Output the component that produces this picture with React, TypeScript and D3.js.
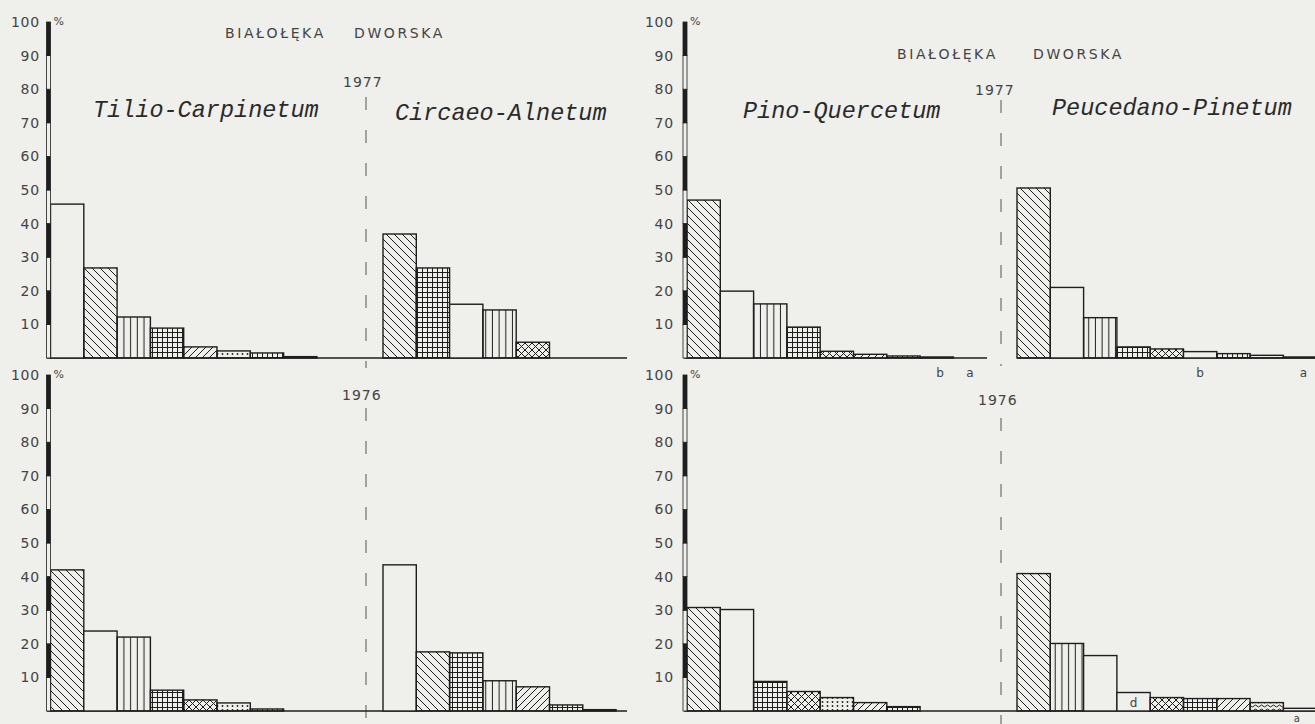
import React from 'react';
import * as d3 from 'd3';

// ---------- data ----------
const yTicks = [10, 20, 30, 40, 50, 60, 70, 80, 90, 100];

const tilio1977 = [45.8, 26.8, 12.2, 8.9, 3.3, 2.1, 1.5, 0.4];
const tilio1977Cls = ['white', 'bslash', 'vert', 'grid', 'fslash', 'dots', 'grid', 'white'];
const circaeo1977 = [36.9, 26.8, 16.0, 14.3, 4.7];
const circaeo1977Cls = ['bslash', 'grid', 'white', 'vert', 'xx'];

const tilio1976 = [42.0, 23.8, 22.0, 6.2, 3.3, 2.4, 0.6];
const tilio1976Cls = ['bslash', 'white', 'vert', 'grid', 'xx', 'dots', 'grid'];
const circaeo1976 = [43.5, 17.6, 17.3, 9.0, 7.2, 1.8, 0.4];
const circaeo1976Cls = ['white', 'bslash', 'grid', 'vert', 'fslash', 'grid', 'white'];

const pino1977 = [47.0, 19.9, 16.1, 9.2, 2.0, 1.1, 0.6, 0.3];
const pino1977Cls = ['bslash', 'white', 'vert', 'grid', 'xx', 'fslash', 'grid', 'white'];
const peuc1977 = [50.6, 21.0, 12.0, 3.3, 2.7, 1.9, 1.3, 0.8, 0.3];
const peuc1977Cls = ['bslash', 'white', 'vert', 'grid', 'xx', 'white', 'grid', 'dots', 'white'];

const pino1976 = [30.8, 30.2, 8.8, 5.8, 4.0, 2.5, 1.3];
const pino1976Cls = ['bslash', 'white', 'grid', 'xx', 'dots', 'fslash', 'grid'];
const peuc1976 = [40.9, 20.1, 16.5, 5.5, 4.0, 3.7, 3.7, 2.5, 0.8];
const peuc1976Cls = ['bslash', 'vert', 'white', 'white', 'xx', 'grid', 'fslash', 'wavy', 'white'];

const placeWords = ['BIAŁOŁĘKA', 'DWORSKA'];
const years = ['1977', '1976'];
const assocNames = ['Tilio-Carpinetum', 'Circaeo-Alnetum', 'Pino-Quercetum', 'Peucedano-Pinetum'];

// ---------- style ----------
const BG = '#efefeb';
const INK = '#1e1e1e';
const TXT = '#444';
const STEP = 33.3;

function Patterns() {
  const s = { stroke: INK, strokeWidth: 1, fill: 'none' } as const;
  return (
    <defs>
      <pattern id="p-bslash" width="8" height="8" patternUnits="userSpaceOnUse">
        <path d="M-1,-1 L9,9 M-1,7 L1,9 M7,-1 L9,1" {...s} />
      </pattern>
      <pattern id="p-fslash" width="7" height="7" patternUnits="userSpaceOnUse">
        <path d="M-1,8 L8,-1 M-1,1 L1,-1 M6,8 L8,6" {...s} />
      </pattern>
      <pattern id="p-vert" width="6.7" height="10" patternUnits="userSpaceOnUse">
        <path d="M3.3,0 L3.3,10" {...s} />
      </pattern>
      <pattern id="p-grid" width="5" height="5" patternUnits="userSpaceOnUse">
        <path d="M2.5,0 L2.5,5 M0,2.5 L5,2.5" {...s} />
      </pattern>
      <pattern id="p-xx" width="7" height="7" patternUnits="userSpaceOnUse">
        <path d="M-1,-1 L8,8 M-1,8 L8,-1" {...s} />
      </pattern>
      <pattern id="p-dots" width="5" height="4" patternUnits="userSpaceOnUse">
        <circle cx="2.5" cy="2" r="0.9" fill={INK} />
      </pattern>
      <pattern id="p-wavy" width="6" height="4" patternUnits="userSpaceOnUse">
        <path d="M0,2 Q1.5,0 3,2 T6,2" {...s} />
      </pattern>
    </defs>
  );
}

function fillFor(c: string) {
  return c === 'white' ? BG : `url(#p-${c})`;
}

function Bars({ values, cls, start, y }: { values: number[]; cls: string[]; start: number; y: d3.ScaleLinear<number, number> }) {
  const x = d3.scaleLinear().domain([0, values.length]).range([start, start + values.length * STEP]);
  return (
    <g>
      {values.map((v, i) => (
        <rect
          key={i}
          x={x(i)}
          y={y(v)}
          width={x(i + 1) - x(i)}
          height={y(0) - y(v)}
          fill={fillFor(cls[i])}
          stroke={INK}
          strokeWidth={1.4}
        />
      ))}
    </g>
  );
}

function Axis({ axisX, labelRight, y }: { axisX: number; labelRight: number; y: d3.ScaleLinear<number, number> }) {
  const segs = d3.range(10);
  return (
    <g>
      {segs.map((i) => (
        <rect
          key={i}
          x={axisX - 2}
          y={y((i + 1) * 10)}
          width={4}
          height={y(i * 10) - y((i + 1) * 10)}
          fill={i % 2 === 1 ? INK : BG}
          stroke={INK}
          strokeWidth={0.8}
        />
      ))}
      {yTicks.map((t) => (
        <text
          key={t}
          x={labelRight}
          y={y(t)}
          dy="0.36em"
          textAnchor="end"
          fontFamily="DejaVu Sans, sans-serif"
          fontSize={14}
          letterSpacing={0.8}
          fill={TXT}
        >
          {t}
        </text>
      ))}
      <text x={axisX + 5} y={y(100) + 3} fontFamily="DejaVu Sans, sans-serif" fontSize={11} fill={TXT}>
        %
      </text>
    </g>
  );
}

export default function App() {
  const W = 1315;
  const H = 724;
  const topBase = 358;
  const botBase = 711;
  const yTop = d3.scaleLinear().domain([0, 100]).range([topBase, topBase - 336]);
  const yBot = d3.scaleLinear().domain([0, 100]).range([botBase, botBase - 336]);

  const leftAxis = 48.5;
  const rightAxis = 685;
  const leftA = 50.5;
  const leftB = 383;
  const rightA = 687;
  const rightB = 1017;

  const italic = {
    fontFamily: 'Liberation Mono, Courier New, monospace',
    fontStyle: 'italic' as const,
    fontSize: 23.5,
    fill: '#2a2a2a',
  };
  const sans = { fontFamily: 'DejaVu Sans, sans-serif', fontSize: 14, fill: TXT, letterSpacing: 2.6 };
  const xPeuc = d3.scaleLinear().domain([0, 1]).range([rightB, rightB + STEP]);
  const xPino = d3.scaleLinear().domain([0, 1]).range([rightA, rightA + STEP]);

  return (
    <svg width={W} height={H} style={{ position: 'absolute', left: 0, top: 0, background: BG }}>
      <Patterns />
      <rect x={0} y={0} width={W} height={H} fill={BG} />

      {/* titles */}
      <text x={225} y={38} {...sans}>{placeWords[0]}</text>
      <text x={354} y={38} {...sans}>{placeWords[1]}</text>
      <text x={897} y={59} {...sans}>{placeWords[0]}</text>
      <text x={1033} y={59} {...sans}>{placeWords[1]}</text>

      <text x={343} y={87} {...sans} letterSpacing={1}>{years[0]}</text>
      <text x={975} y={95} {...sans} letterSpacing={1}>{years[0]}</text>
      <text x={342} y={400} {...sans} letterSpacing={1}>{years[1]}</text>
      <text x={978} y={405} {...sans} letterSpacing={1}>{years[1]}</text>

      <text x={93} y={117} {...italic}>{assocNames[0]}</text>
      <text x={395} y={120} {...italic}>{assocNames[1]}</text>
      <text x={743} y={118} {...italic}>{assocNames[2]}</text>
      <text x={1052} y={115} {...italic}>{assocNames[3]}</text>

      {/* dashed separators */}
      <g stroke="#555" strokeWidth={1} strokeDasharray="13 20">
        <line x1={366} x2={366} y1={97} y2={368} />
        <line x1={366} x2={366} y1={408} y2={724} />
        <line x1={1001} x2={1001} y1={100} y2={366} />
        <line x1={1001} x2={1001} y1={418} y2={724} />
      </g>

      {/* baselines */}
      <g stroke={INK} strokeWidth={1.6}>
        <line x1={47} x2={627} y1={topBase} y2={topBase} />
        <line x1={47} x2={627} y1={botBase} y2={botBase} />
        <line x1={684} x2={987} y1={topBase} y2={topBase} />
        <line x1={1017} x2={1315} y1={topBase} y2={topBase} />
        <line x1={684} x2={1315} y1={botBase} y2={botBase} />
      </g>

      {/* bars */}
      <Bars values={tilio1977} cls={tilio1977Cls} start={leftA} y={yTop} />
      <Bars values={circaeo1977} cls={circaeo1977Cls} start={leftB} y={yTop} />
      <Bars values={tilio1976} cls={tilio1976Cls} start={leftA} y={yBot} />
      <Bars values={circaeo1976} cls={circaeo1976Cls} start={leftB} y={yBot} />
      <Bars values={pino1977} cls={pino1977Cls} start={rightA} y={yTop} />
      <Bars values={peuc1977} cls={peuc1977Cls} start={rightB} y={yTop} />
      <Bars values={pino1976} cls={pino1976Cls} start={rightA} y={yBot} />
      <Bars values={peuc1976} cls={peuc1976Cls} start={rightB} y={yBot} />

      {/* axes */}
      <Axis axisX={leftAxis} labelRight={40} y={yTop} />
      <Axis axisX={leftAxis} labelRight={40} y={yBot} />
      <Axis axisX={rightAxis} labelRight={674} y={yTop} />
      <Axis axisX={rightAxis} labelRight={674} y={yBot} />

      {/* small letter annotations */}
      <g fontFamily="DejaVu Sans, sans-serif" fontSize={12} fill={TXT} textAnchor="middle">
        <text x={xPino(7.6)} y={377}>b</text>
        <text x={xPino(8.5)} y={377}>a</text>
        <text x={xPeuc(5.5)} y={377}>b</text>
        <text x={xPeuc(8.6)} y={377}>a</text>
        <text x={xPeuc(3.5)} y={707}>d</text>
        <text x={xPeuc(8.4)} y={722} fontSize={10}>a</text>
      </g>
    </svg>
  );
}
